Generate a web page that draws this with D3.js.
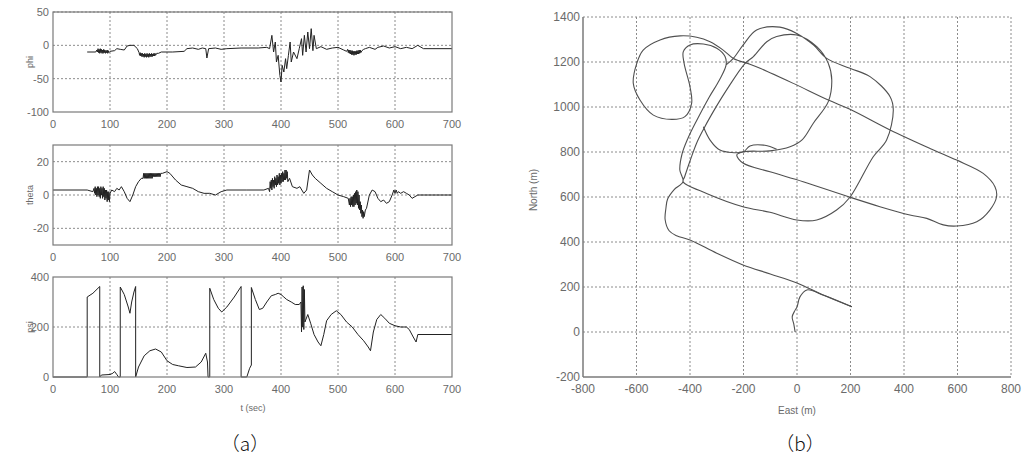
<!DOCTYPE html>
<html>
<head>
<meta charset="utf-8">
<script src="https://cdn.jsdelivr.net/npm/d3@7"></script>
<style>
body { margin: 0; background: #fff; }
svg text { font-family: "Liberation Sans", Arial, sans-serif; fill: #6a6a6a; }
</style>
</head>
<body>
<div id="chart"></div>
<script>

var width = 1025;
var height = 469;

// ---- data (a): attitude angles vs time ----
var timeTicks = [0, 100, 200, 300, 400, 500, 600, 700];
var phiTicks = [-100, -50, 0, 50];
var thetaTicks = [-20, 0, 20];
var psiTicks = [0, 200, 400];

var phi = [
	[60,-10],[75,-10],[77,-7],[78,-10],[79,-5],[80,-11],[81,-6],[82,-12],[83,-5],[84,-11],[85,-6],
	[86,-12],[87,-7],[88,-12],[89,-6],[90,-11],[91,-7],[92,-12],[93,-8],[94,-11],[95,-7],[96,-12],
	[97,-8],[98,-11],[100,-9],[108,-8],[112,-5],[118,-6],[125,-7],[130,-1],[135,0],[142,0],
	[148,-5],[151,-11],[152,-15],[153,-11],[154,-16],[155,-12],[156,-17],[157,-12],[158,-17],
	[159,-13],[160,-18],[161,-12],[162,-17],[163,-13],[164,-18],[165,-12],[166,-17],[167,-13],
	[168,-18],[169,-12],[170,-17],[171,-13],[172,-17],[173,-12],[174,-17],[175,-13],[176,-16],
	[177,-12],[178,-16],[179,-12],[180,-15],[182,-12],[185,-12],[190,-10],[210,-10],
	[230,-9],[235,-5],[245,-4],[255,-6],[262,-4],[268,-5],[270,-19],[273,-5],[285,-4],[295,-6],
	[305,-5],[330,-4],[360,-4],[375,-3],[380,-5],[384,15],[387,-10],[390,5],[392,-25],[395,-15],
	[398,-45],[400,-55],[402,-30],[405,-40],[408,-20],[410,-35],[413,-15],[416,5],[418,-25],
	[422,-10],[428,-20],[432,-5],[436,10],[438,-15],[441,15],[444,-10],[447,20],[450,-5],
	[453,25],[456,-8],[458,15],[462,-5],[470,-2],[480,-6],[490,-4],[500,-3],[510,-7],[515,-9],
	[517,-6],[518,-11],[519,-7],[520,-12],[521,-7],[522,-13],[523,-8],[524,-14],[525,-8],
	[526,-14],[527,-9],[528,-15],[529,-9],[530,-14],[531,-9],[532,-14],[533,-8],[534,-13],
	[535,-8],[536,-13],[537,-7],[538,-12],[539,-7],[540,-11],[542,-8],[545,-6],[548,-5],
	[555,-3],[565,-6],[570,-3],[580,-1],[590,-4],[600,-2],[610,-5],[620,-3],[630,-5],[640,0],
	[650,-5],[700,-5]
];

var theta = [
	[0,3],[60,3],[70,2],[72,4],[73,1],[74,5],[75,0],[76,4],[77,-1],[78,5],[79,0],[80,5],[81,-1],
	[82,4],[83,-2],[84,5],[85,0],[86,4],[87,-2],[88,5],[89,-1],[90,4],[91,-3],[92,3],[93,-2],
	[94,3],[95,-4],[96,2],[97,-3],[98,2],[99,-4],[100,1],[103,3],[108,2],[112,4],[116,3],
	[120,5],[125,2],[130,-2],[135,-4],[140,0],[145,5],[150,8],[155,10],[158,10],[159,13],
	[160,10],[161,13],[162,10],[163,13],[164,10],[165,13],[166,10],[167,13],[168,10],[169,13],
	[170,10],[171,13],[172,10],[173,13],[174,10],[175,13],[176,11],[177,13],[178,11],[179,13],
	[180,11],[181,13],[182,11],[183,13],[184,11],[185,13],[186,11],[187,13],[188,11],[189,13],
	[192,13],[200,14],[205,13],[215,9],[225,6],[235,5],[245,4],
	[255,2],[265,1],[275,1],[285,0],[295,2],[305,3],[340,3],[370,3],[378,4],[380,2],[381,8],
	[382,4],[383,9],[384,3],[385,10],[386,5],[387,9],[388,4],[389,11],[390,6],[391,10],[392,5],
	[393,12],[394,6],[395,11],[396,7],[397,13],[398,6],[399,12],[400,7],[401,13],[402,8],
	[403,14],[404,8],[405,13],[406,9],[407,15],[408,9],[409,15],[410,10],[411,14],[412,8],
	[415,10],[420,5],[428,4],[433,5],[440,1],[445,3],[450,15],[455,12],[460,10],[470,7],[480,4],
	[490,2],[500,0],[510,-1],[518,-2],[520,-6],[521,-2],[522,-7],[523,-1],[524,-6],[525,-1],
	[526,-7],[527,0],[528,-7],[529,1],[530,-6],[531,2],[532,-5],[533,3],[534,-6],[535,2],
	[536,-8],[537,0],[538,-9],[539,-4],[540,-11],[541,-6],[542,-13],[543,-9],[544,-14],
	[545,-10],[546,-13],[548,-9],[550,-8],[555,0],[560,3],[565,2],[570,-2],[575,-4],[580,-3],
	[585,-5],[590,-4],[595,0],[598,3],[600,1],[602,3],[604,1],[606,2],[610,1],[615,2],[620,1],
	[625,0],[630,-2],[635,-1],[640,0],[700,0]
];

var psi = [
	[0,0],[60,0],[60,320],[70,335],[82,362],[82,0],[85,8],[100,10],[105,15],[108,22],[112,10],
	[115,0],[118,0],[118,360],[125,330],[132,280],[135,255],[138,300],[142,340],[145,362],
	[145,0],[150,40],[160,85],[170,105],[180,112],[190,100],[200,65],[210,50],[220,45],[235,38],
	[250,40],[260,60],[268,95],[271,60],[272,0],[275,0],[275,355],[282,310],[290,275],[296,260],
	[305,280],[318,320],[330,362],[330,0],[340,0],[345,35],[348,48],[348,358],[355,310],[362,270],
	[368,275],[375,300],[383,325],[390,330],[395,335],[400,330],[405,320],[410,310],[418,300],
	[425,290],[432,290],[435,300],[436,180],[437,360],[438,200],[439,365],[440,190],[441,350],
	[442,220],[447,250],[452,215],[458,170],[465,140],[470,125],[475,170],[480,225],[488,250],
	[497,265],[505,250],[515,220],[525,200],[535,170],[545,145],[553,120],[557,105],[562,180],
	[568,230],[575,250],[582,235],[590,215],[600,205],[610,200],[620,200],[625,190],[632,160],
	[637,140],[640,170],[700,170]
];

// ---- data (b): ground track, East / North in metres ----
var eastTicks = [-800, -600, -400, -200, 0, 200, 400, 600, 800];
var northTicks = [-200, 0, 200, 400, 600, 800, 1000, 1200, 1400];

var trackStart = [
	[-7,0],[-12,35],[-18,67],[-8,95],[0,111],[11,156],[37,187],[100,163],[205,112]
];

var trackMain = [
	[205,112],[100,163],[0,218],[-100,258],[-202,298],[-300,350],[-400,409],[-450,428],[-478,450],
	[-493,500],[-490,550],[-484,590],[-460,632],[-426,668],[-438,720],[-430,790],[-408,860],
	[-375,940],[-330,1040],[-290,1120],[-265,1187],[-269,1224],[-300,1261],[-350,1280],[-400,1276],
	[-425,1246],[-422,1194],[-400,1090],[-394,1016],[-419,957],[-468,945],[-537,964],[-587,1031],
	[-612,1105],[-599,1194],[-575,1253],[-512,1298],[-437,1316],[-375,1310],[-325,1290],
	[-276,1253],[-238,1216],[-176,1190],[-138,1172],[-14,1105],[117,1031],[198,990],[348,898],
	[497,816],[597,764],[696,705],[740,646],[746,601],[721,542],[672,490],[597,471],[547,476],
	[485,505],[422,520],[310,557],[198,599],[23,668],[-101,712],[-202,751],[-225,787],[-200,801],
	[-101,805],[-26,823],[20,855],[61,928],[117,1024],[130,1120],[117,1194],[74,1268],[-1,1320],
	[-76,1313],[-113,1290],[-163,1224],[-194,1194],[-263,1076],[-320,965],[-350,900],[-375,840],
	[-400,760],[-420,690],[-426,668],[-338,616],[-202,557],[-101,532],[-1,498],[74,498],[148,542],
	[198,599],[285,779],[335,853],[360,987],[348,1046],[273,1135],[198,1172],[111,1216],[61,1276],
	[-1,1327],[-64,1355],[-151,1342],[-201,1276],[-238,1216],[-265,1187]
];

var trackLoop = [
	[-350,912],[-325,853],[-288,809],[-201,801],[-176,827],[-120,830],[-76,812]
];

var svg = d3.select("#chart")
	.append("svg")
		.attr("width", width)
		.attr("height", height)
		;

var gridColor = "#8c8c8c";
var axisColor = "#7a7a7a";
var lineColor = "#222";

// one small time-series panel of figure (a)
function drawPanel(data, yDomain, yTicks, top, bottom, label, gridTicks) {
	var x = d3.scaleLinear()
		.domain([0, 700])
		.range([53, 452])
		;
	var y = d3.scaleLinear()
		.domain(yDomain)
		.range([bottom, top])
		;
	var g = svg.append("g");

	g.selectAll(".vgrid")
		.data(timeTicks.slice(1, -1))
		.enter().append("line")
		.attr("x1", function(d) { return x(d); })
		.attr("x2", function(d) { return x(d); })
		.attr("y1", top)
		.attr("y2", bottom)
		.attr("stroke", gridColor)
		.attr("stroke-dasharray", "2,2")
		;
	g.selectAll(".hgrid")
		.data(gridTicks)
		.enter().append("line")
		.attr("x1", x(0))
		.attr("x2", x(700))
		.attr("y1", function(d) { return y(d); })
		.attr("y2", function(d) { return y(d); })
		.attr("stroke", gridColor)
		.attr("stroke-dasharray", "2,2")
		;

	g.append("path")
		.datum(data)
		.attr("fill", "none")
		.attr("stroke", lineColor)
		.attr("stroke-width", 1)
		.attr("stroke-linejoin", "round")
		.attr("d", d3.line()
			.x(function(d) { return x(d[0]); })
			.y(function(d) { return y(d[1]); }))
		;

	g.append("rect")
		.attr("x", x(0))
		.attr("y", top)
		.attr("width", x(700) - x(0))
		.attr("height", bottom - top)
		.attr("fill", "none")
		.attr("stroke", axisColor)
		.attr("stroke-width", 1.2)
		;

	g.selectAll(".ytick")
		.data(yTicks)
		.enter().append("text")
		.attr("x", 49)
		.attr("y", function(d) { return y(d) + 4; })
		.attr("text-anchor", "end")
		.attr("font-size", "11px")
		.text(function(d) { return d; })
		;
	g.selectAll(".xtick")
		.data(timeTicks)
		.enter().append("text")
		.attr("x", function(d) { return x(d); })
		.attr("y", bottom + 16)
		.attr("text-anchor", "middle")
		.attr("font-size", "11px")
		.text(function(d) { return d; })
		;

	g.append("text")
		.attr("transform", "translate(33," + ((top + bottom) / 2) + ") rotate(-90)")
		.attr("text-anchor", "middle")
		.attr("font-size", "9px")
		.text(label)
		;
}

drawPanel(phi, [-100, 50], phiTicks, 12, 112, "phi", [-50, 0, 50]);
drawPanel(theta, [-30, 30], thetaTicks, 145, 245, "theta", [-20, 0, 20]);
drawPanel(psi, [0, 400], psiTicks, 277, 377, "psi", [200]);

svg.append("text")
	.attr("x", 253)
	.attr("y", 411)
	.attr("text-anchor", "middle")
	.attr("font-size", "9px")
	.text("t (sec)")
	;

// ---- figure (b) ----
var ex = d3.scaleLinear()
	.domain([-800, 800])
	.range([583, 1011])
	;
var ny = d3.scaleLinear()
	.domain([-200, 1400])
	.range([377, 17])
	;

var gb = svg.append("g");

gb.selectAll(".vgrid")
	.data(eastTicks.slice(1))
	.enter().append("line")
	.attr("x1", function(d) { return ex(d); })
	.attr("x2", function(d) { return ex(d); })
	.attr("y1", ny(1400))
	.attr("y2", ny(-200))
	.attr("stroke", gridColor)
	.attr("stroke-dasharray", "2,2")
	;
gb.selectAll(".hgrid")
	.data(northTicks.slice(1))
	.enter().append("line")
	.attr("x1", ex(-800))
	.attr("x2", ex(800))
	.attr("y1", function(d) { return ny(d); })
	.attr("y2", function(d) { return ny(d); })
	.attr("stroke", gridColor)
	.attr("stroke-dasharray", "2,2")
	;

var trackLine = d3.line()
	.x(function(d) { return ex(d[0]); })
	.y(function(d) { return ny(d[1]); })
	.curve(d3.curveCatmullRom)
	;

gb.selectAll(".track")
	.data([trackStart, trackMain, trackLoop])
	.enter().append("path")
	.attr("fill", "none")
	.attr("stroke", "#505050")
	.attr("stroke-width", 1.1)
	.attr("d", trackLine)
	;

gb.append("line")
	.attr("x1", ex(-800)).attr("x2", ex(-800))
	.attr("y1", ny(1400)).attr("y2", ny(-200))
	.attr("stroke", axisColor)
	.attr("stroke-width", 1.5)
	;
gb.append("line")
	.attr("x1", ex(-800)).attr("x2", ex(800))
	.attr("y1", ny(-200)).attr("y2", ny(-200))
	.attr("stroke", axisColor)
	.attr("stroke-width", 1.5)
	;

gb.selectAll(".ytick")
	.data(northTicks)
	.enter().append("text")
	.attr("x", 580)
	.attr("y", function(d) { return ny(d) + 4; })
	.attr("text-anchor", "end")
	.attr("font-size", "12px")
	.text(function(d) { return d; })
	;
gb.selectAll(".xtick")
	.data(eastTicks)
	.enter().append("text")
	.attr("x", function(d) { return ex(d); })
	.attr("y", 393)
	.attr("text-anchor", "middle")
	.attr("font-size", "12px")
	.text(function(d) { return d; })
	;

gb.append("text")
	.attr("x", 797)
	.attr("y", 414)
	.attr("text-anchor", "middle")
	.attr("font-size", "10px")
	.text("East (m)")
	;
gb.append("text")
	.attr("transform", "translate(537,190) rotate(-90)")
	.attr("text-anchor", "middle")
	.attr("font-size", "10px")
	.text("North (m)")
	;

// captions
svg.append("text")
	.attr("x", 245)
	.attr("y", 451)
	.attr("text-anchor", "middle")
	.attr("font-size", "19px")
	.style("font-family", "'Noto Sans CJK SC', sans-serif")
	.style("fill", "#111")
	.style("font-weight", 300)
	.text("（a）")
	;
svg.append("text")
	.attr("x", 800)
	.attr("y", 451)
	.attr("text-anchor", "middle")
	.attr("font-size", "19px")
	.style("font-family", "'Noto Sans CJK SC', sans-serif")
	.style("fill", "#111")
	.style("font-weight", 300)
	.text("（b）")
	;

</script>
</body>
</html>
